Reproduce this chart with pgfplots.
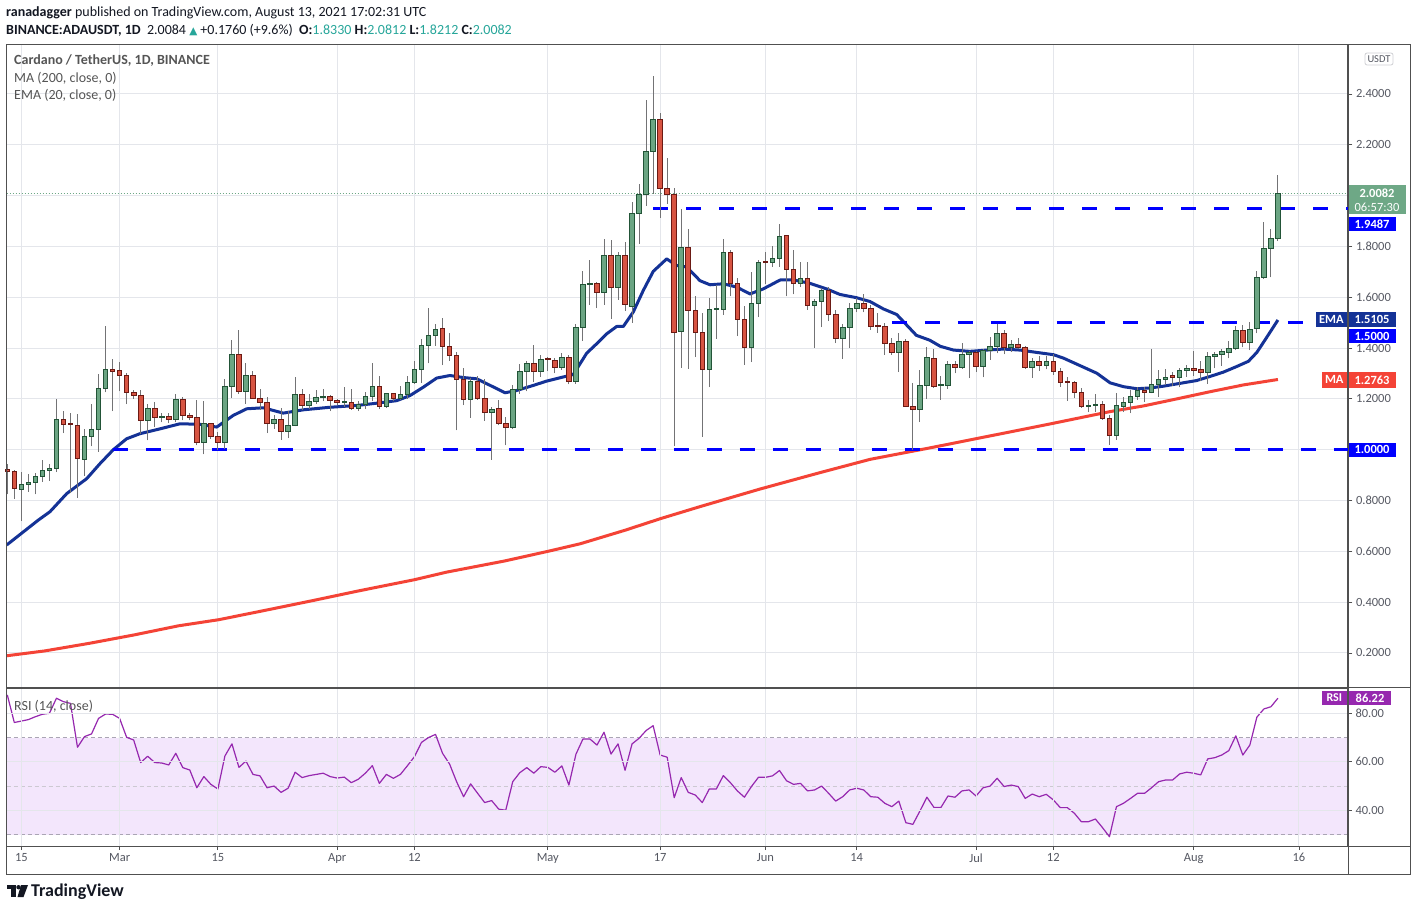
\documentclass[border=0pt]{standalone}
\usepackage{pgfplots}
\pgfplotsset{compat=1.18}
\usepackage{pgfplotstable}
\usepgflibrary{fpu}
\usepackage{fontspec}
\setmainfont{Carlito}
\newfontfamily\dejavu{DejaVu Sans}
\newcommand\fs[1]{\fontsize{#1}{#1}\selectfont}
\definecolor{gridc}{RGB}{228,230,235}
\definecolor{framec}{RGB}{80,80,80}
\definecolor{labc}{RGB}{85,88,98}
\definecolor{cgreen}{RGB}{107,165,131}
\definecolor{cgreenb}{RGB}{34,84,55}
\definecolor{cred}{RGB}{215,84,66}
\definecolor{credb}{RGB}{107,26,20}
\definecolor{wick}{RGB}{115,115,117}
\definecolor{emac}{RGB}{20,50,150}
\definecolor{mac}{RGB}{244,67,54}
\definecolor{lvlblue}{RGB}{0,0,255}
\definecolor{rsic}{RGB}{150,40,175}
\definecolor{rsiband}{RGB}{243,230,252}
\definecolor{bandline}{RGB}{170,165,180}
\definecolor{tealc}{RGB}{38,166,154}
\definecolor{pricegreen}{RGB}{110,168,134}
\definecolor{legc}{RGB}{85,85,85}
\definecolor{headc}{RGB}{19,23,34}

\pgfdeclareplotmark{candle}{%
  \pgfkeys{/pgf/fpu=true,/pgf/fpu/output format=fixed}%
  \pgfmathsetmacro\bh{254.1*(\vC-\vO)}%
  \pgfmathsetmacro\wt{254.1*(\vH-\vO)}%
  \pgfmathsetmacro\wb{254.1*(\vL-\vO)}%
  \pgfkeys{/pgf/fpu=false}%
  \pgfsetstrokecolor{wick}\pgfsetlinewidth{1pt}%
  \pgfpathmoveto{\pgfpoint{0pt}{\wb pt}}\pgfpathlineto{\pgfpoint{0pt}{\wt pt}}\pgfusepath{stroke}%
  \ifdim\bh pt<0pt \pgfsetfillcolor{cred}\pgfsetstrokecolor{credb}\else\pgfsetfillcolor{cgreen}\pgfsetstrokecolor{cgreenb}\fi
  \ifdim\bh pt>-1.2pt \ifdim\bh pt<1.2pt \def\bh{1.2}\fi\fi
  \pgfsetlinewidth{0.9pt}%
  \pgfpathrectangle{\pgfpoint{-2.3pt}{0pt}}{\pgfpoint{4.6pt}{\bh pt}}%
  \pgfusepath{fill,stroke}%
}

\pgfplotstableread{
k o h l c
0 0.924 0.945 0.824 0.914
1 0.914 0.920 0.807 0.847
2 0.845 0.914 0.720 0.864
3 0.864 0.906 0.834 0.872
4 0.872 0.908 0.824 0.894
5 0.894 0.961 0.873 0.918
6 0.918 0.945 0.877 0.926
7 0.926 1.200 0.912 1.118
8 1.118 1.154 1.065 1.098
9 1.100 1.145 0.830 1.097
10 1.097 1.141 0.810 0.965
11 0.962 1.080 0.897 1.051
12 1.051 1.178 1.013 1.078
13 1.078 1.298 0.991 1.243
14 1.243 1.488 1.226 1.314
15 1.314 1.357 1.152 1.308
16 1.312 1.346 1.230 1.294
17 1.294 1.300 1.179 1.224
18 1.224 1.233 1.200 1.212
19 1.212 1.233 1.063 1.114
20 1.114 1.180 1.037 1.161
21 1.161 1.186 1.089 1.128
22 1.128 1.144 1.108 1.130
23 1.130 1.145 1.104 1.118
24 1.118 1.220 1.108 1.196
25 1.196 1.209 1.115 1.133
26 1.133 1.144 1.115 1.125
27 1.125 1.196 1.017 1.030
28 1.030 1.193 0.982 1.102
29 1.102 1.105 1.043 1.054
30 1.054 1.070 0.997 1.030
31 1.030 1.278 1.004 1.247
32 1.247 1.431 1.203 1.376
33 1.376 1.471 1.220 1.229
34 1.229 1.341 1.180 1.294
35 1.294 1.311 1.200 1.200
36 1.200 1.239 1.158 1.184
37 1.184 1.209 1.065 1.102
38 1.102 1.135 1.082 1.118
39 1.118 1.165 1.039 1.071
40 1.071 1.152 1.046 1.097
41 1.097 1.288 1.092 1.216
42 1.216 1.239 1.157 1.176
43 1.176 1.220 1.160 1.188
44 1.188 1.233 1.180 1.204
45 1.204 1.237 1.190 1.210
46 1.210 1.215 1.152 1.192
47 1.192 1.200 1.175 1.184
48 1.184 1.246 1.170 1.186
49 1.187 1.239 1.158 1.161
50 1.161 1.190 1.152 1.179
51 1.179 1.229 1.160 1.210
52 1.210 1.341 1.190 1.250
53 1.250 1.292 1.160 1.171
54 1.171 1.225 1.166 1.220
55 1.220 1.225 1.190 1.200
56 1.200 1.250 1.195 1.216
57 1.216 1.292 1.200 1.263
58 1.263 1.348 1.260 1.314
59 1.314 1.435 1.262 1.412
60 1.412 1.557 1.340 1.451
61 1.451 1.494 1.410 1.475
62 1.478 1.518 1.333 1.406
63 1.406 1.458 1.350 1.369
64 1.369 1.386 1.076 1.275
65 1.275 1.322 1.175 1.197
66 1.197 1.283 1.125 1.268
67 1.268 1.292 1.197 1.203
68 1.203 1.279 1.113 1.146
69 1.146 1.168 0.960 1.157
70 1.161 1.197 1.096 1.102
71 1.102 1.130 1.017 1.089
72 1.089 1.253 1.080 1.236
73 1.236 1.336 1.220 1.307
74 1.307 1.351 1.230 1.338
75 1.338 1.414 1.265 1.306
76 1.306 1.371 1.288 1.354
77 1.354 1.365 1.310 1.350
78 1.350 1.360 1.300 1.325
79 1.325 1.380 1.315 1.362
80 1.362 1.372 1.257 1.270
81 1.270 1.496 1.260 1.480
82 1.480 1.702 1.428 1.649
83 1.649 1.748 1.570 1.653
84 1.653 1.660 1.557 1.620
85 1.620 1.830 1.570 1.763
86 1.763 1.824 1.515 1.640
87 1.640 1.778 1.590 1.763
88 1.763 1.817 1.546 1.570
89 1.565 1.974 1.500 1.929
90 1.929 2.044 1.810 2.005
91 2.005 2.377 1.961 2.174
92 2.174 2.469 2.007 2.298
93 2.298 2.326 1.913 2.027
94 2.027 2.149 1.968 2.003
95 2.003 2.031 1.013 1.463
96 1.467 1.948 1.323 1.797
97 1.797 1.870 1.319 1.548
98 1.548 1.603 1.364 1.463
99 1.463 1.537 1.050 1.315
100 1.315 1.598 1.246 1.550
101 1.550 1.649 1.436 1.552
102 1.550 1.830 1.532 1.777
103 1.777 1.786 1.603 1.653
104 1.653 1.676 1.447 1.511
105 1.511 1.564 1.334 1.401
106 1.404 1.701 1.345 1.574
107 1.574 1.747 1.522 1.735
108 1.735 1.780 1.653 1.733
109 1.735 1.803 1.720 1.751
110 1.751 1.889 1.720 1.841
111 1.845 1.845 1.603 1.708
112 1.708 1.784 1.611 1.653
113 1.653 1.740 1.640 1.675
114 1.675 1.740 1.550 1.566
115 1.566 1.594 1.401 1.583
116 1.583 1.637 1.482 1.626
117 1.626 1.640 1.506 1.531
118 1.531 1.548 1.419 1.436
119 1.436 1.493 1.358 1.480
120 1.480 1.577 1.401 1.554
121 1.554 1.598 1.540 1.574
122 1.574 1.611 1.540 1.554
123 1.554 1.570 1.472 1.485
124 1.485 1.539 1.460 1.482
125 1.485 1.500 1.373 1.417
126 1.417 1.440 1.373 1.384
127 1.384 1.460 1.305 1.426
128 1.426 1.436 1.172 1.172
129 1.172 1.263 1.000 1.157
130 1.157 1.312 1.109 1.253
131 1.253 1.404 1.200 1.362
132 1.361 1.396 1.243 1.248
133 1.251 1.292 1.196 1.252
134 1.251 1.350 1.239 1.337
135 1.337 1.349 1.300 1.324
136 1.324 1.421 1.318 1.374
137 1.374 1.390 1.282 1.384
138 1.384 1.390 1.305 1.328
139 1.329 1.395 1.285 1.392
140 1.392 1.444 1.354 1.405
141 1.405 1.494 1.379 1.459
142 1.459 1.470 1.375 1.403
143 1.403 1.430 1.385 1.416
144 1.416 1.439 1.395 1.403
145 1.403 1.410 1.318 1.324
146 1.324 1.362 1.284 1.349
147 1.349 1.370 1.310 1.333
148 1.333 1.368 1.316 1.349
149 1.349 1.377 1.295 1.308
150 1.308 1.321 1.248 1.263
151 1.265 1.288 1.193 1.263
152 1.263 1.272 1.203 1.224
153 1.224 1.243 1.165 1.171
154 1.169 1.196 1.148 1.173
155 1.173 1.220 1.148 1.180
156 1.180 1.193 1.118 1.122
157 1.122 1.137 1.020 1.055
158 1.055 1.222 1.039 1.173
159 1.171 1.207 1.148 1.184
160 1.184 1.233 1.144 1.208
161 1.208 1.248 1.196 1.233
162 1.233 1.246 1.187 1.226
163 1.226 1.396 1.222 1.255
164 1.255 1.315 1.209 1.278
165 1.277 1.318 1.255 1.286
166 1.286 1.304 1.252 1.283
167 1.286 1.320 1.245 1.310
168 1.310 1.335 1.287 1.318
169 1.318 1.390 1.290 1.312
170 1.314 1.350 1.270 1.305
171 1.305 1.383 1.259 1.367
172 1.367 1.385 1.320 1.376
173 1.376 1.395 1.330 1.386
174 1.383 1.426 1.359 1.400
175 1.400 1.485 1.392 1.471
176 1.471 1.490 1.403 1.422
177 1.422 1.501 1.392 1.475
178 1.478 1.703 1.458 1.678
179 1.678 1.897 1.671 1.793
180 1.793 1.869 1.678 1.832
181 1.833 2.081 1.821 2.008
}\candles

\pgfplotstableread{
k v
-0.085 0.625
4.42 0.723
6.08 0.756
8.46 0.827
11.31 0.886
13.2 0.945
15.1 1.0
17.0 1.043
18.9 1.063
21.75 1.082
24.6 1.102
27.45 1.1
29.83 1.089
32.19 1.135
34.1 1.161
36.47 1.165
39.3 1.144
42.17 1.157
45.97 1.167
49.77 1.174
52.62 1.183
55.47 1.193
57.36 1.213
59.26 1.246
61.17 1.282
63.06 1.292
64.96 1.284
66.87 1.279
69.23 1.247
70.9 1.224
72.56 1.233
74.93 1.253
76.84 1.27
78.73 1.283
80.63 1.296
82.54 1.38
83.96 1.417
85.38 1.456
86.81 1.485
87.75 1.485
89.17 1.542
90.6 1.627
92.02 1.702
93.93 1.751
95.36 1.725
96.78 1.719
98.68 1.665
100.1 1.649
102.0 1.653
103.9 1.64
105.8 1.613
107.7 1.633
110.1 1.668
112.0 1.668
114.3 1.655
116.7 1.633
118.6 1.611
121.0 1.598
122.9 1.583
124.8 1.554
126.7 1.532
128.1 1.491
129.5 1.45
131.4 1.431
132.9 1.407
134.8 1.392
137.1 1.387
139.5 1.392
141.9 1.396
144.3 1.392
146.6 1.383
149.0 1.374
150.4 1.361
152.8 1.331
155.2 1.301
157.1 1.263
159.0 1.248
160.9 1.24
162.8 1.243
164.7 1.25
166.6 1.259
169.4 1.272
171.3 1.288
173.2 1.305
175.1 1.327
176.8 1.348
178.0 1.383
179.4 1.442
181.0 1.5105
}\emadata

\pgfplotstableread{
k v
-0.085 0.189
5.31 0.208
11.68 0.238
18.05 0.271
24.4 0.307
30.13 0.331
37.12 0.370
43.48 0.406
49.81 0.443
58.1 0.489
62.55 0.518
70.83 0.562
77.17 0.601
81.64 0.630
87.99 0.683
93.08 0.729
98.68 0.776
107.2 0.845
115.8 0.910
122.9 0.962
131.4 1.007
141.4 1.062
149.0 1.104
157.1 1.150
161.8 1.172
166.6 1.200
171.3 1.228
176.1 1.255
181.0 1.2763
}\madata

\pgfplotstableread{
k v
0 87.6
1 76.2
2 76.8
3 77.4
4 78.6
5 79.6
6 80.0
7 86.2
8 84.8
9 84.1
10 66.0
11 70.4
12 71.5
13 77.9
14 79.7
15 79.6
16 77.9
17 70.1
18 69.0
19 59.7
20 62.3
21 59.7
22 59.5
23 58.7
24 63.5
25 57.6
26 56.6
27 49.3
28 53.9
29 50.7
30 48.8
31 62.4
32 67.4
33 57.7
34 60.3
35 54.8
36 54.2
37 49.3
38 50.0
39 47.4
40 49.1
41 55.7
42 53.5
43 54.3
44 54.8
45 55.3
46 53.9
47 53.3
48 53.7
49 51.4
50 52.8
51 55.3
52 58.4
53 51.1
54 54.8
55 53.2
56 54.8
57 58.4
58 62.1
59 68.0
60 70.0
61 71.3
62 63.5
63 59.1
64 51.8
65 45.6
66 50.9
67 47.0
68 43.2
69 44.0
70 40.5
71 40.0
72 51.8
73 55.5
74 57.6
75 55.3
76 58.0
77 57.7
78 55.7
79 58.3
80 50.4
81 63.1
82 69.4
83 69.4
84 66.9
85 72.2
86 63.2
87 67.4
88 56.5
89 67.4
90 69.7
91 72.9
92 74.9
93 62.8
94 61.9
95 45.2
96 53.5
97 47.4
98 46.3
99 43.2
100 48.8
101 48.8
102 54.3
103 51.4
104 48.0
105 45.4
106 49.8
107 53.6
108 53.6
109 54.2
110 56.4
111 52.2
112 50.7
113 51.1
114 48.0
115 48.4
116 50.0
117 47.0
118 43.8
119 45.6
120 48.4
121 49.1
122 48.4
123 45.6
124 45.4
125 42.9
126 41.5
127 43.8
128 34.9
129 34.2
130 39.7
131 45.4
132 41.2
133 41.2
134 45.9
135 45.4
136 48.0
137 48.4
138 45.9
139 49.3
140 50.0
141 53.2
142 49.8
143 50.4
144 49.8
145 44.9
146 46.7
147 45.6
148 46.6
149 44.3
150 41.1
151 41.1
152 38.8
153 35.3
154 35.3
155 36.4
156 32.9
157 29.1
158 41.5
159 42.9
160 44.9
161 47.0
162 47.0
163 49.3
164 51.8
165 52.5
166 52.5
167 55.0
168 55.7
169 55.3
170 54.6
171 61.2
172 61.7
173 62.8
174 64.6
175 70.7
176 62.8
177 66.9
178 78.4
179 81.8
180 82.7
181 86.22
}\rsidata

\begin{document}
\begin{tikzpicture}
\useasboundingbox (0pt,0pt) rectangle (1417pt,911pt);
\fill[white] (0pt,0pt) rectangle (1417pt,911pt);

% ---------- main price panel ----------
\begin{axis}[at={(6.7pt,223pt)}, anchor=south west,
  x=7.02pt, y=254.1pt,
  xmin=-0.085, xmax=190.98, ymin=0.0622, ymax=2.5927,
  axis line style={framec, line width=1pt},
  grid=major, grid style={gridc, line width=1pt},
  xtick={2,16,30,47,58,77,93,108,121,138,149,169,184},
  xticklabels={}, xtick style={draw=none},
  ytick={0.2,0.4,0.6,0.8,1.0,1.2,1.4,1.6,1.8,2.0,2.2,2.4},
  yticklabels={0.2000,0.4000,0.6000,0.8000,,1.2000,1.4000,1.6000,1.8000,,2.2000,2.4000},
  ytick pos=right, yticklabel pos=right,
  tick align=outside, major tick length=4.5pt,
  ytick style={framec, line width=0.8pt},
  yticklabel style={font=\fs{12.5}, text=labc, anchor=west},
]
\addplot[mac, line width=3pt, line join=round] table[x=k,y=v] {\madata};
\addplot[emac, line width=3pt, line join=round] table[x=k,y=v] {\emadata};
\addplot[mark=candle, only marks,
  visualization depends on={\thisrow{o} \as \vO},
  visualization depends on={\thisrow{h} \as \vH},
  visualization depends on={\thisrow{l} \as \vL},
  visualization depends on={\thisrow{c} \as \vC},
] table[x=k, y=o] {\candles};
\addplot[lvlblue, line width=3pt, dash pattern=on 15pt off 18pt] coordinates {(92,1.9487) (190.98,1.9487)};
\addplot[lvlblue, line width=3pt, dash pattern=on 15pt off 18pt] coordinates {(126,1.5) (190.98,1.5)};
\addplot[lvlblue, line width=3pt, dash pattern=on 15pt off 18pt] coordinates {(15,1.0) (190.98,1.0)};
\addplot[pricegreen, line width=0.8pt, dash pattern=on 1pt off 2pt] coordinates {(-0.085,2.0082) (190.98,2.0082)};
\end{axis}

% ---------- RSI panel ----------
\begin{axis}[at={(6.7pt,65pt)}, anchor=south west,
  x=7.02pt, y=2.425pt,
  xmin=-0.085, xmax=190.98, ymin=25.28, ymax=90.43,
  axis on top,
  axis line style={framec, line width=1pt},
  grid=major, grid style={gridc, line width=1pt},
  xtick={2,16,30,47,58,77,93,108,121,138,149,169,184},
  xticklabels={15,Mar,15,Apr,12,May,17,Jun,14,Jul,12,Aug,16},
  xtick pos=bottom,
  ytick={40,60,80}, yticklabels={40.00,60.00,80.00},
  ytick pos=right, yticklabel pos=right,
  tick align=outside, major tick length=4pt,
  tick style={framec, line width=0.8pt},
  yticklabel style={font=\fs{12.5}, text=labc, anchor=west},
  xticklabel style={font=\fs{12.5}, text=labc},
]
\fill[rsiband] (axis cs:-0.085,30) rectangle (axis cs:190.98,70);
\draw[bandline, line width=0.8pt, dash pattern=on 4pt off 3pt] (axis cs:-0.085,70) -- (axis cs:190.98,70);
\draw[bandline!60, line width=0.8pt, dash pattern=on 4pt off 3pt] (axis cs:-0.085,50) -- (axis cs:190.98,50);
\draw[bandline, line width=0.8pt, dash pattern=on 4pt off 3pt] (axis cs:-0.085,30) -- (axis cs:190.98,30);
\addplot[rsic, line width=1.2pt, line join=round] table[x=k,y=v] {\rsidata};
\end{axis}

\begin{scope}[x=1pt, y=1pt, shift={(0pt,911pt)}, yscale=-1]
% ---------- frame ----------
\draw[framec, line width=1pt] (6.7,44.5) -- (1410.5,44.5) -- (1410.5,874) -- (6.7,874) -- cycle;
\draw[framec, line width=1pt] (1348,44.5) -- (1348,874);
\draw[framec, line width=1pt] (6.7,688) -- (1410.5,688);
\draw[framec, line width=1pt] (6.7,846) -- (1410.5,846);

% ---------- header ----------
\node[anchor=west, inner sep=0pt, font=\fs{14}, text=headc] at (6,13) {\textbf{ranadagger} published on TradingView.com, August 13, 2021 17:02:31 UTC};
\node[anchor=west, inner sep=0pt, font=\fs{14}, text=headc] at (6,30) {\textbf{BINANCE:ADAUSDT, 1D}\ \ 2.0084\ {\color{tealc}\dejavu\fs{10.5}▲}\ +0.1760 (+9.6\%)\ \ \textbf{O:}{\color{tealc}1.8330}\ \textbf{H:}{\color{tealc}2.0812}\ \textbf{L:}{\color{tealc}1.8212}\ \textbf{C:}{\color{tealc}2.0082}};
\node[anchor=west, inner sep=0pt, font=\bfseries\fs{14}, text=legc] at (14,61) {Cardano / TetherUS, 1D, BINANCE};
\node[anchor=west, inner sep=0pt, font=\fs{14}, text=legc] at (14,78) {MA (200, close, 0)};
\node[anchor=west, inner sep=0pt, font=\fs{14}, text=legc] at (14,95) {EMA (20, close, 0)};
\node[anchor=west, inner sep=0pt, font=\fs{14}, text=legc] at (14,706) {RSI (14, close)};

% ---------- price-scale labels ----------
\node[draw=gridc!80!gray, rounded corners=2pt, line width=0.8pt, font=\fs{10.5}, text=labc, inner sep=2.5pt] at (1379,59) {USDT};
\fill[pricegreen] (1348.7,185) rectangle (1406,214);
\node[white, inner sep=0pt, font=\bfseries\fs{12.5}] at (1377,193.5) {2.0082};
\node[white, inner sep=0pt, font=\fs{12.5}] at (1377,207) {06:57:30};
\fill[lvlblue] (1348.7,217.5) rectangle (1395.7,230.7);
\node[white, inner sep=0pt, font=\bfseries\fs{12.5}] at (1372,224.1) {1.9487};
\fill[emac] (1316,311.7) rectangle (1346.7,327.3);
\node[white, inner sep=0pt, font=\bfseries\fs{12.5}] at (1331.3,319.5) {EMA};
\fill[emac] (1348.7,311.7) rectangle (1395.7,327.3);
\node[white, inner sep=0pt, font=\bfseries\fs{12.5}] at (1372,319.5) {1.5105};
\fill[lvlblue] (1348.7,328.7) rectangle (1395.7,343.3);
\node[white, inner sep=0pt, font=\bfseries\fs{12.5}] at (1372,336) {1.5000};
\fill[mac] (1322,372) rectangle (1346.7,387.7);
\node[white, inner sep=0pt, font=\bfseries\fs{12.5}] at (1334.3,379.9) {MA};
\fill[mac] (1348.7,372) rectangle (1395.7,387.7);
\node[white, inner sep=0pt, font=\bfseries\fs{12.5}] at (1372,379.9) {1.2763};
\fill[lvlblue] (1348.7,442.7) rectangle (1395.7,456.7);
\node[white, inner sep=0pt, font=\bfseries\fs{12.5}] at (1372,449.7) {1.0000};
\fill[rsic] (1322,691) rectangle (1346.7,705);
\node[white, inner sep=0pt, font=\bfseries\fs{12}] at (1334.3,698) {RSI};
\fill[rsic] (1348.7,691) rectangle (1391,705);
\node[white, inner sep=0pt, font=\bfseries\fs{12.5}] at (1370,698) {86.22};

% ---------- logo ----------
\fill[headc] (7,885) rectangle (15.5,889);
\fill[headc] (11,885) rectangle (15.5,897);
\fill[headc] (18.5,887.2) circle (2.2);
\fill[headc] (21,885) -- (28,885) -- (23.5,897) -- (17.5,897) -- cycle;
\node[anchor=west, inner sep=0pt, font=\bfseries\fs{18}, text=headc] at (31,891.5) {TradingView};
\end{scope}
\end{tikzpicture}
\end{document}
